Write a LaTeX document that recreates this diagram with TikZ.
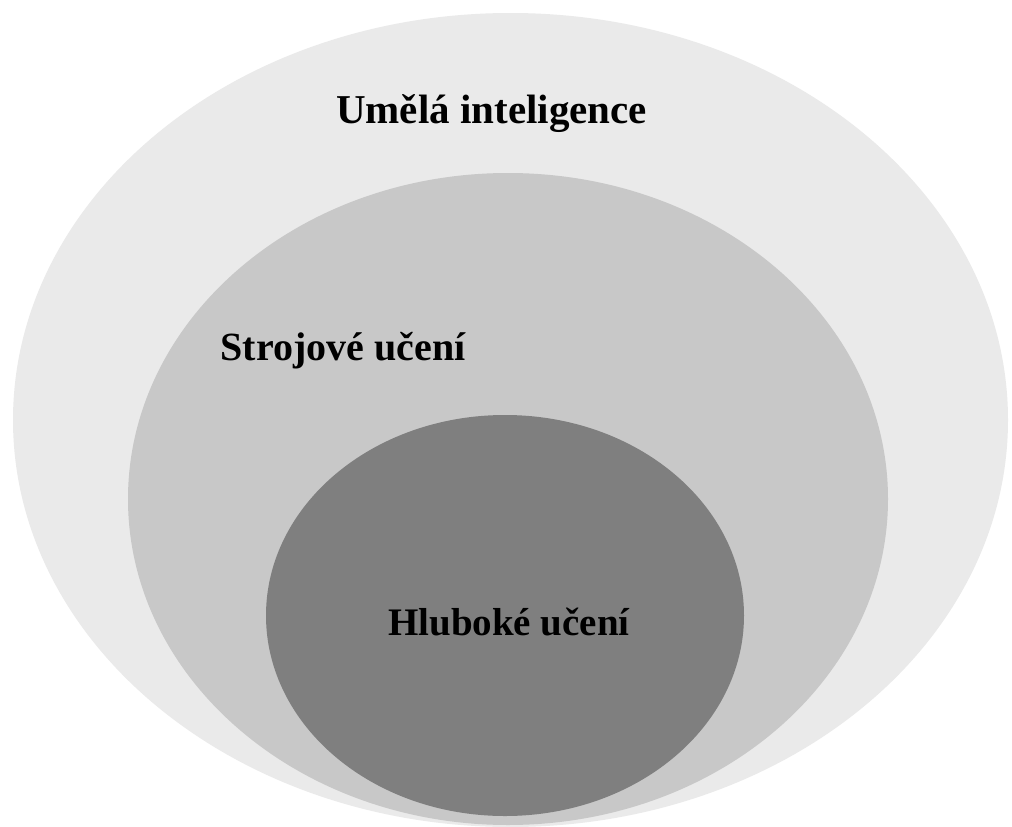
\documentclass[tikz,border=0pt]{standalone}
\usepackage{fontspec}
\setmainfont{Liberation Serif}
\usetikzlibrary{shapes.geometric}
\definecolor{aiGray}{HTML}{EAEAEA}
\definecolor{mlGray}{HTML}{C8C8C8}
\definecolor{dlGray}{HTML}{7F7F7F}
\tikzset{
  region/.style={ellipse, inner sep=0pt, draw=none},
  label text/.style={anchor=base, inner sep=0pt, text=black, font=\bfseries\fontsize{#1}{#1}\selectfont},
}
\begin{document}
\begin{tikzpicture}[x=1pt, y=-1pt]
  % canvas
  \fill[white] (0,0) rectangle (1012,827);
  \useasboundingbox (0,0) rectangle (1012,827);
  \clip (0,0) rectangle (1012,827);
  % nested regions
  \node[region, fill=aiGray, minimum width=995pt, minimum height=814pt] (ai) at (510.5,420) {};
  \node[region, fill=mlGray, minimum width=760pt, minimum height=652pt] (ml) at (508,499) {};
  \node[region, fill=dlGray, minimum width=478pt, minimum height=401pt] (dl) at (505,615.5) {};
  % labels
  \node[label text=41] (aiLabel) at (491.5,123) {Umělá inteligence};
  \node[label text=40] (mlLabel) at (343,360) {Strojové učení};
  \node[label text=39] (dlLabel) at (509,635) {Hluboké učení};
\end{tikzpicture}
\end{document}
